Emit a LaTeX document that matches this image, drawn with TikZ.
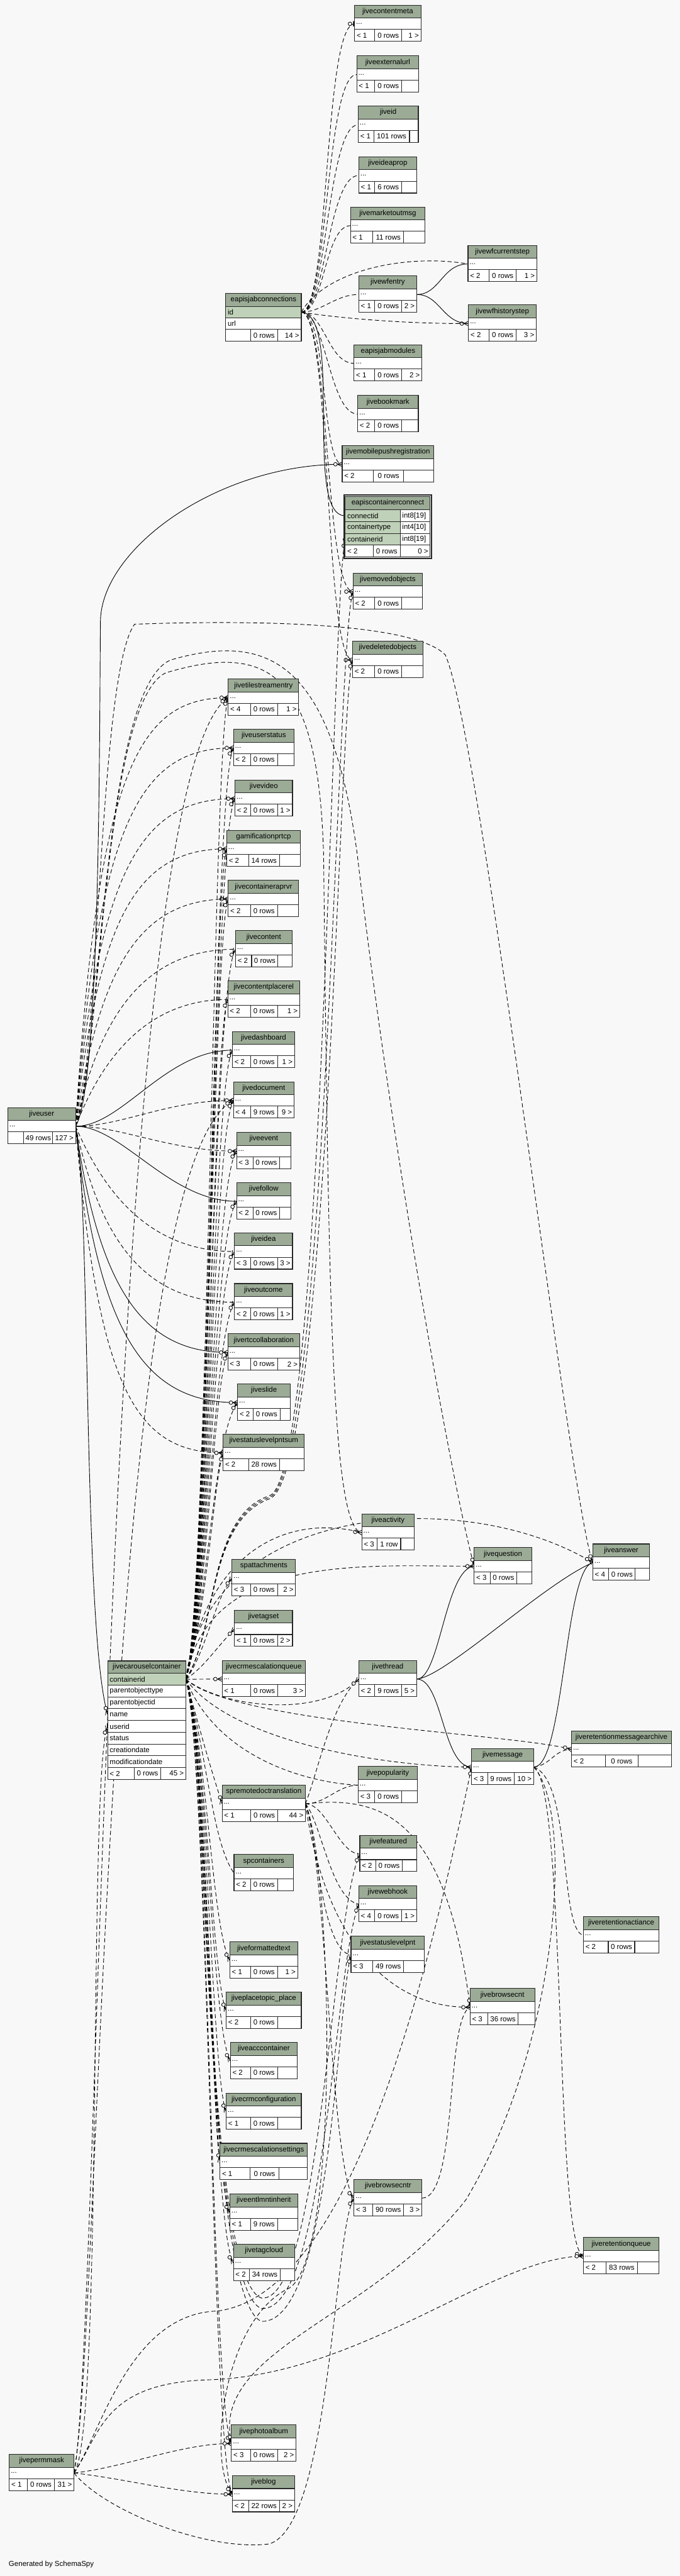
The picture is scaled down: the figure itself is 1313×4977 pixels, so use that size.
\documentclass[tikz,border=0pt]{standalone}
\usepackage{fontspec}
\setmainfont{Liberation Sans}
\usetikzlibrary{decorations.markings}
\definecolor{bgc}{RGB}{248,248,248}
\definecolor{hdrc}{RGB}{155,171,150}
\definecolor{pkc}{RGB}{191,209,184}
\definecolor{bordc}{RGB}{40,40,40}
\newcommand\tfnt{\fontsize{14}{16}\selectfont}
\pgfdeclarelayer{bglayer}\pgfdeclarelayer{edgelayer}
\pgfsetlayers{bglayer,edgelayer,main}
\newcommand\crowmark{\draw[solid,line width=1pt,black] (-9,0) -- (0,4.5) (-9,0) -- (0,-4.5) (-9,0) -- (0,0);
  \draw[solid,line width=1pt,black,fill=bgc] (-13,0) circle[radius=3.5pt];}
\newcommand\teemark{\draw[solid,line width=1.8pt,black] (-2,-5) -- (-2,5);
  \draw[solid,line width=1pt,black,fill=bgc] (-9,0) circle[radius=3.5pt];}
\tikzset{
 hdr/.style={draw=bordc,fill=hdrc,line width=1.3pt,minimum height=25pt,inner sep=0pt,outer sep=0pt,font=\tfnt,text=black},
 rowc/.style={draw=bordc,fill=white,line width=1.3pt,minimum height=22pt,inner sep=0pt,outer sep=0pt},
 pkrow/.style={rowc,fill=pkc},
 cellc/.style={draw=bordc,fill=white,line width=1.3pt,minimum height=23pt,inner sep=0pt,outer sep=0pt},
 tx/.style={font=\tfnt,inner sep=0pt,outer sep=0pt,text=black},
 bord/.style={draw=bordc,line width=1.3pt},
 edgebase/.style={line width=1.1pt,draw=black},
 crowend/.style={postaction={decorate,decoration={markings,mark=at position 1 with {\crowmark}}}},
 teeend/.style={postaction={decorate,decoration={markings,mark=at position 1 with {\teemark}}}},
 de/.style={edgebase,dash pattern=on 8pt off 5pt,crowend},
 se/.style={edgebase,crowend},
 dte/.style={edgebase,dash pattern=on 8pt off 5pt,teeend},
 dne/.style={edgebase,dash pattern=on 8pt off 5pt},
}
% table: id, x, y, xright, title
\newcommand\mytb[5]{%
  \pgfmathsetmacro\tbw{#4-#2}%
  \node[hdr,minimum width=\tbw,anchor=north west] (#1-t) at (#2,#3) {#5};
  \node[rowc,minimum width=\tbw,anchor=north west] (#1) at (#1-t.south west) {};
  \node[tx,anchor=west] (#1-d) at ([xshift=3pt]#1.west) {...};}
% footer: id(row above), split1, split2, texts
\newcommand\myft[6]{%
  \node[cellc,minimum width=\tbw,anchor=north west] (#1-f) at (#1.south west) {};
  \draw[bord] (#2,0 |- #1-f.north) -- (#2,0 |- #1-f.south) (#3,0 |- #1-f.north) -- (#3,0 |- #1-f.south);
  \pgfmathsetmacro\ftm{(#2+#3)/2}%
  \node[tx,anchor=west] (#1-f1) at ([xshift=4pt]#1-f.west) {#4};
  \node[tx] (#1-f2) at (\ftm,0 |- #1-f.center) {#5};
  \node[tx,anchor=east] (#1-f3) at ([xshift=-4pt]#1-f.east) {#6};}
% field row: id, previous, text, style, height
\newcommand\myfr[5]{%
  \node[#4,minimum width=\tbw,minimum height=#5,anchor=north west] (#1) at (#2.south west) {};
  \node[tx,anchor=west] (#1-x) at ([xshift=4pt]#1.west) {#3};}
\newcommand\cn[5][de]{\draw[#1] (#2) .. controls #4 and #5 .. (#3);}
\begin{document}
\begin{tikzpicture}[x=1pt,y=-1pt]
\useasboundingbox (0,0) rectangle (1313,4977);
\begin{pgfonlayer}{bglayer}\fill[bgc] (0,0) rectangle (1313,4977);\end{pgfonlayer}

% ---------- special tables
\node[hdr,minimum width=146,anchor=north west] (ej-t) at (436,567) {eapisjabconnections};
\def\tbw{146}
\myfr{ej-id}{ej-t}{id}{pkrow}{22}
\myfr{ej-url}{ej-id}{url}{rowc}{22.5}
\myft{ej-url}{484}{536}{}{0 rows}{14 >}

\node[hdr,minimum width=164,minimum height=26,anchor=north west] (ecc-t) at (667,959) {eapiscontainerconnect};
\def\tbw{106}
\myfr{ecc-cid}{ecc-t}{connectid}{pkrow}{23}
\myfr{ecc-cty}{ecc-cid}{containertype}{pkrow}{22.5}
\myfr{ecc-ctid}{ecc-cty}{containerid}{pkrow}{22.5}
\node[rowc,minimum width=58,minimum height=23,anchor=north west] (ecc-y1) at (ecc-cid.north east) {};
\node[tx,anchor=west] (ecc-y1x) at ([xshift=4pt]ecc-y1.west) {int8[19]};
\node[rowc,minimum width=58,minimum height=22.5,anchor=north west] (ecc-y2) at (ecc-cty.north east) {};
\node[tx,anchor=west] (ecc-y2x) at ([xshift=4pt]ecc-y2.west) {int4[10]};
\node[rowc,minimum width=58,minimum height=22.5,anchor=north west] (ecc-y3) at (ecc-ctid.north east) {};
\node[tx,anchor=west] (ecc-y3x) at ([xshift=4pt]ecc-y3.west) {int8[19]};
\def\tbw{164}
\myft{ecc-ctid}{721}{773}{< 2}{0 rows}{0 >}
\draw[bordc,line width=2.6pt] (664.5,956.5) rectangle (833.5,1078.5);

\node[hdr,minimum width=151,minimum height=24,anchor=north west] (car-t) at (208,3209) {jivecarouselcontainer};
\def\tbw{151}
\myfr{car-cid}{car-t}{containerid}{pkrow}{22.75}
\myfr{car-pot}{car-cid}{parentobjecttype}{rowc}{22.75}
\myfr{car-poi}{car-pot}{parentobjectid}{rowc}{22.75}
\myfr{car-name}{car-poi}{name}{rowc}{22.75}
\myfr{car-uid}{car-name}{userid}{rowc}{22.75}
\myfr{car-st}{car-uid}{status}{rowc}{22.75}
\myfr{car-cd}{car-st}{creationdate}{rowc}{22.75}
\myfr{car-md}{car-cd}{modificationdate}{rowc}{22.75}
\myft{car-md}{259}{311}{< 2}{0 rows}{45 >}

% ---------- standard tables
\mytb{cmeta}{685}{10}{813}{jivecontentmeta}\myft{cmeta}{724}{776}{< 1}{0 rows}{1 >}
\mytb{exturl}{689}{108}{809}{jiveexternalurl}\myft{exturl}{724}{776}{< 1}{0 rows}{}
\mytb{jid}{692}{205}{808}{jiveid}\myft{jid}{722}{791}{< 1}{101 rows}{}
\mytb{ideaprop}{693}{303}{805}{jiveideaprop}\myft{ideaprop}{724}{776}{< 1}{6 rows}{}
\mytb{mktmsg}{677}{400}{821}{jivemarketoutmsg}\myft{mktmsg}{720}{780}{< 1}{11 rows}{}
\mytb{wfcur}{904}{474}{1037}{jivewfcurrentstep}\myft{wfcur}{945}{997}{< 2}{0 rows}{1 >}
\mytb{wfent}{693}{533}{805}{jivewfentry}\myft{wfent}{724}{776}{< 1}{0 rows}{2 >}
\mytb{wfhist}{905}{589}{1036}{jivewfhistorystep}\myft{wfhist}{945}{997}{< 2}{0 rows}{3 >}
\mytb{jabmod}{684}{666}{815}{eapisjabmodules}\myft{jabmod}{724}{776}{< 1}{0 rows}{2 >}
\mytb{bookmark}{691}{764}{808}{jivebookmark}\myft{bookmark}{724}{776}{< 2}{0 rows}{}
\mytb{mobpush}{661}{861}{838}{jivemobilepushregistration}\myft{mobpush}{721}{780}{< 2}{0 rows}{}
\mytb{moved}{682}{1107}{816}{jivemovedobjects}\myft{moved}{724}{776}{< 2}{0 rows}{}
\mytb{deleted}{681}{1239}{817}{jivedeletedobjects}\myft{deleted}{724}{776}{< 2}{0 rows}{}
\mytb{tile}{441}{1312}{577}{jivetilestreamentry}\myft{tile}{484}{536}{< 4}{0 rows}{1 >}
\mytb{ustatus}{451}{1409}{568}{jiveuserstatus}\myft{ustatus}{484}{536}{< 2}{0 rows}{}
\mytb{video}{454}{1507}{565}{jivevideo}\myft{video}{484}{536}{< 2}{0 rows}{1 >}
\mytb{gami}{438}{1604}{580}{gamificationprtcp}\myft{gami}{480}{540}{< 2}{14 rows}{}
\mytb{caprvr}{441}{1701}{577}{jivecontaineraprvr}\myft{caprvr}{484}{536}{< 2}{0 rows}{}
\mytb{content}{455}{1798}{564}{jivecontent}\myft{content}{486}{537}{< 2}{0 rows}{}
\mytb{cplacerel}{440}{1895}{579}{jivecontentplacerel}\myft{cplacerel}{484}{536}{< 2}{0 rows}{1 >}
\mytb{dashb}{449}{1993}{569}{jivedashboard}\myft{dashb}{484}{536}{< 2}{0 rows}{1 >}
\mytb{doc}{451}{2090}{568}{jivedocument}\myft{doc}{484}{536}{< 4}{9 rows}{9 >}
\mytb{event}{457}{2188}{562}{jiveevent}\myft{event}{489}{540}{< 3}{0 rows}{}
\mytb{follow}{457}{2285}{562}{jivefollow}\myft{follow}{489}{540}{< 2}{0 rows}{}
\mytb{idea}{453}{2382}{565}{jiveidea}\myft{idea}{484}{536}{< 3}{0 rows}{3 >}
\mytb{outcome}{453}{2480}{565}{jiveoutcome}\myft{outcome}{484}{536}{< 2}{0 rows}{1 >}
\mytb{rtc}{440}{2577}{579}{jivertccollaboration}\myft{rtc}{484}{536}{< 3}{0 rows}{2 >}
\mytb{slide}{459}{2674}{561}{jiveslide}\myft{slide}{489}{541}{< 2}{0 rows}{}
\mytb{slps}{431}{2771}{588}{jivestatuslevelpntsum}\myft{slps}{480}{540}{< 2}{28 rows}{}
\mytb{activity}{699}{2925}{800}{jiveactivity}\myft{activity}{729}{774}{< 3}{1 row}{}
\mytb{question}{916}{2990}{1027}{jivequestion}\myft{question}{947}{998}{< 3}{0 rows}{}
\mytb{answer}{1145}{2983}{1255}{jiveanswer}\myft{answer}{1176}{1227}{< 4}{0 rows}{}
\mytb{spatt}{448}{3013}{571}{spattachments}\myft{spatt}{484}{536}{< 3}{0 rows}{2 >}
\mytb{tagset}{453}{3111}{565}{jivetagset}\myft{tagset}{484}{536}{< 1}{0 rows}{2 >}
\mytb{cq}{429}{3208}{590}{jivecrmescalationqueue}\myft{cq}{484}{537}{< 1}{0 rows}{3 >}
\mytb{thread}{693}{3208}{805}{jivethread}\myft{thread}{724}{776}{< 2}{9 rows}{5 >}
\mytb{rma}{1104}{3344}{1297}{jiveretentionmessagearchive}\myft{rma}{1169}{1233}{< 2}{0 rows}{}
\mytb{msg}{911}{3378}{1031}{jivemessage}\myft{msg}{942}{993}{< 3}{9 rows}{10 >}
\mytb{pop}{692}{3413}{806}{jivepopularity}\myft{pop}{724}{776}{< 3}{0 rows}{}
\mytb{sprdt}{429}{3449}{590}{spremotedoctranslation}\myft{sprdt}{484}{537}{< 1}{0 rows}{44 >}
\mytb{feat}{695}{3546}{805}{jivefeatured}\myft{feat}{726}{777}{< 2}{0 rows}{}
\mytb{spcont}{452}{3583}{567}{spcontainers}\myft{spcont}{484}{536}{< 2}{0 rows}{}
\mytb{webhook}{693}{3643}{805}{jivewebhook}\myft{webhook}{724}{776}{< 4}{0 rows}{1 >}
\mytb{ract}{1127}{3703}{1273}{jiveretentionactiance}\myft{ract}{1175}{1226}{< 2}{0 rows}{}
\mytb{slp}{678}{3741}{820}{jivestatuslevelpnt}\myft{slp}{720}{780}{< 3}{49 rows}{}
\mytb{ftext}{444}{3752}{575}{jiveformattedtext}\myft{ftext}{484}{536}{< 1}{0 rows}{1 >}
\mytb{ptp}{437}{3849}{582}{jiveplacetopic\_place}\myft{ptp}{484}{536}{< 2}{0 rows}{}
\mytb{bcnt}{908}{3842}{1033}{jivebrowsecnt}\myft{bcnt}{942}{1001}{< 3}{36 rows}{}
\mytb{acc}{445}{3946}{574}{jiveacccontainer}\myft{acc}{484}{536}{< 2}{0 rows}{}
\mytb{crmconf}{437}{4044}{582}{jivecrmconfiguration}\myft{crmconf}{484}{536}{< 1}{0 rows}{}
\mytb{crmset}{425}{4141}{594}{jivecrmescalationsettings}\myft{crmset}{483}{539}{< 1}{0 rows}{}
\mytb{bcntr}{684}{4211}{815}{jivebrowsecntr}\myft{bcntr}{720}{780}{< 3}{90 rows}{3 >}
\mytb{entl}{444}{4239}{575}{jiveentlmntinherit}\myft{entl}{484}{536}{< 1}{9 rows}{}
\mytb{tagcloud}{451}{4336}{569}{jivetagcloud}\myft{tagcloud}{482}{541}{< 2}{34 rows}{}
\mytb{rq}{1127}{4323}{1273}{jiveretentionqueue}\myft{rq}{1171}{1231}{< 2}{83 rows}{}
\mytb{photo}{447}{4685}{572}{jivephotoalbum}\myft{photo}{484}{536}{< 3}{0 rows}{2 >}
\mytb{blog}{449}{4783}{569}{jiveblog}\myft{blog}{480}{540}{< 2}{22 rows}{2 >}
\mytb{perm}{18}{4742}{143}{jivepermmask}\myft{perm}{53}{105}{< 1}{0 rows}{31 >}
\mytb{user}{15}{2140}{146}{jiveuser}\myft{user}{46}{102}{}{49 rows}{127 >}

\node[tx,anchor=west] (gen) at (17,4955) {Generated by SchemaSpy};

% ---------- connectors
\begin{pgfonlayer}{edgelayer}
% eapisjabconnections
\cn[dte]{ej-id.east}{cmeta.west}{+(55,0)}{+(-60,0)}
\cn[dte]{ej-id.east}{exturl.west}{+(52,0)}{+(-60,0)}
\cn{ej-id.east}{jid.west}{+(50,0)}{+(-60,0)}
\cn[dte]{ej-id.east}{ideaprop.west}{+(48,0)}{+(-60,0)}
\cn[dte]{ej-id.east}{mktmsg.west}{+(45,0)}{+(-50,0)}
\cn{ej-id.east}{wfcur.west}{(630,520)}{(790,490)}
\cn[dte]{ej-id.east}{wfent.west}{+(40,0)}{+(-45,0)}
\cn{ej-id.east}{wfhist.west}{(660,616)}{(800,626)}
\cn[dte]{ej-id.east}{jabmod.west}{+(45,0)}{+(-50,0)}
\cn[dte]{ej-id.east}{bookmark.west}{+(48,0)}{+(-55,0)}
\cn{ej-id.east}{mobpush.west}{+(50,0)}{+(-40,0)}
\cn[se]{ej-id.east}{ecc-cid.west}{(665,610)}{(585,997)}
\cn{ej-id.east}{moved.west}{+(55,0)}{+(-55,0)}
\cn{ej-id.east}{deleted.west}{+(58,0)}{+(-55,0)}
\cn[se]{wfent.east}{wfcur.west}{+(45,0)}{+(-50,0)}
\cn[se]{wfent.east}{wfhist.west}{+(45,0)}{+(-50,0)}
% jiveuser
\cn{user.east}{tile.west}{(190,1478)}{(270,1348)}
\cn{user.east}{ustatus.west}{(190,1575)}{(275,1445)}
\cn{user.east}{video.west}{(190,1673)}{(275,1543)}
\cn{user.east}{gami.west}{(190,1770)}{(265,1640)}
\cn{user.east}{caprvr.west}{(192,1867)}{(270,1737)}
\cn{user.east}{content.west}{(192,1960)}{(280,1834)}
\cn{user.east}{cplacerel.west}{(195,2050)}{(280,1931)}
\cn[se]{user.east}{dashb.west}{+(90,0)}{+(-130,0)}
\cn{user.east}{doc.west}{+(90,0)}{+(-130,0)}
\cn{user.east}{event.west}{+(90,0)}{+(-130,0)}
\cn[se]{user.east}{follow.west}{+(90,0)}{+(-130,0)}
\cn{user.east}{idea.west}{(195,2290)}{(280,2418)}
\cn{user.east}{outcome.west}{(192,2390)}{(275,2516)}
\cn[se]{user.east}{rtc.west}{(190,2480)}{(270,2613)}
\cn[se]{user.east}{slide.west}{(190,2580)}{(280,2710)}
\cn{user.east}{slps.west}{(190,2680)}{(260,2807)}
\draw[se] (user.east) .. controls (194,2100) and (192,1400) .. (194,1200) .. controls (196,1060) and (420,897) .. (mobpush.west);
\cn[se]{user.east}{car-name.west}{(175,2300)}{(160,3150)}
\draw[de] (user.east) .. controls (192,2050) and (190,1300) .. (260,1206) .. controls (420,1200) and (790,1195) .. (860,1265) .. controls (930,1420) and (1100,2900) .. (answer.west);
\draw[de] (user.east) .. controls (195,2050) and (195,1330) .. (330,1275) .. controls (520,1220) and (640,1280) .. (690,1650) .. controls (760,2250) and (880,2900) .. (question.west);
\draw[de] (user.east) .. controls (196,2050) and (196,1360) .. (320,1300) .. controls (520,1240) and (615,1300) .. (625,1650) .. controls (635,2500) and (640,2955) .. (activity.west);
% jivecarouselcontainer
\foreach \t/\ty in {tile/1348,ustatus/1445,video/1543,gami/1640,caprvr/1737,content/1834,cplacerel/1931,dashb/2029,doc/2126,event/2224,follow/2321,idea/2418,outcome/2516,rtc/2613,slide/2710,slps/2807}
  {\draw[de] (car-cid.east) .. controls (402,3100) and (412,\ty+60) .. (\t.west);}
\cn{car-cid.east}{spatt.west}{(395,3200)}{(415,3089)}
\cn{car-cid.east}{tagset.west}{(395,3220)}{(415,3187)}
\cn{car-cid.east}{cq.west}{+(30,0)}{+(-30,0)}
\foreach \t/\ty in {sprdt/3485,spcont/3619,ftext/3788,ptp/3885,acc/3982,crmconf/4080,crmset/4177,entl/4275,tagcloud/4372,photo/4721,blog/4819}
  {\draw[de] (car-cid.east) .. controls (402,3400) and (410,\ty-60) .. (\t.west);}
\draw[de] (car-cid.east) .. controls (420,3150) and (400,2930) .. (520,2890) .. controls (625,2860) and (640,1150) .. (ecc-ctid.west);
\draw[de] (car-cid.east) .. controls (420,3150) and (400,2935) .. (520,2893) .. controls (630,2860) and (650,1230) .. (moved.west);
\draw[de] (car-cid.east) .. controls (420,3150) and (400,2940) .. (520,2896) .. controls (635,2860) and (655,1350) .. (deleted.west);
\cn{car-cid.east}{activity.west}{(400,2990)}{(560,2925)}
\cn{car-cid.east}{question.west}{(400,3000)}{(700,3026)}
\cn{car-cid.east}{answer.west}{(400,2900)}{(900,2870)}
\cn{car-cid.east}{thread.west}{(430,3300)}{(620,3320)}
\cn{car-cid.east}{rma.west}{(450,3330)}{(1000,3350)}
\cn{car-cid.east}{msg.west}{(450,3370)}{(760,3414)}
\cn{car-cid.east}{pop.west}{(420,3400)}{(600,3445)}
\draw[de] (car-cid.east) .. controls (400,3300) and (392,4400) .. (505,4440) .. controls (620,4450) and (640,3700) .. (feat.west);
\draw[de] (car-cid.east) .. controls (400,3300) and (392,4420) .. (505,4460) .. controls (630,4470) and (645,3800) .. (webhook.west);
\draw[de] (car-cid.east) .. controls (400,3300) and (392,4440) .. (505,4485) .. controls (640,4490) and (650,3880) .. (slp.west);
% spremotedoctranslation
\cn{sprdt.east}{pop.west}{+(40,0)}{+(-40,0)}
\cn{sprdt.east}{thread.west}{(615,3420)}{(640,3290)}
\cn{sprdt.east}{feat.west}{+(40,0)}{+(-40,0)}
\cn{sprdt.east}{webhook.west}{(620,3520)}{(640,3670)}
\cn{sprdt.east}{slp.west}{(610,3530)}{(620,3770)}
\cn{sprdt.east}{bcnt.west}{(730,3470)}{(860,3500)}
\cn{sprdt.east}{bcnt.west}{(620,3700)}{(720,3880)}
\cn{sprdt.east}{bcntr.west}{(630,3600)}{(640,4200)}
\draw[de] (sprdt.east) .. controls (640,3600) and (660,4350) .. (560,4420) .. controls (430,4480) and (400,4760) .. (blog.west);
% jivethread
\cn[se]{thread.east}{question.west}{(850,3244)}{(860,3030)}
\cn[se]{thread.east}{answer.west}{(860,3240)}{(1050,3060)}
\cn[se]{thread.east}{msg.west}{(855,3244)}{(855,3414)}
% jivemessage
\cn[se]{msg.east}{answer.west}{(1090,3414)}{(1090,3030)}
\cn{msg.east}{rma.west}{(1065,3410)}{(1070,3380)}
\cn{msg.east}{ract.west}{(1105,3440)}{(1080,3730)}
\cn{msg.east}{rq.west}{(1095,3450)}{(1070,4340)}
\draw[de] (msg.east) .. controls (1110,3500) and (1080,3950) .. (900,4250) .. controls (720,4480) and (405,4540) .. (photo.west);
% jivebrowsecntr
\cn{bcntr.east}{bcnt.west}{(885,4246)}{(860,3900)}
% jivepermmask
\cn{perm.east}{photo.west}{(250,4765)}{(350,4721)}
\cn{perm.east}{blog.west}{(250,4790)}{(350,4819)}
\cn{perm.east}{car-uid.west}{(200,4700)}{(170,3420)}
\cn{perm.east}{tile.west}{(195,4500)}{(200,1500)}
\cn{perm.east}{doc.west}{(195,4500)}{(200,2250)}
\draw[de] (perm.east) .. controls (195,4700) and (200,4605) .. (400,4598) .. controls (700,4590) and (950,4360) .. (rq.west);
\draw[de] (perm.east) .. controls (200,4850) and (400,4930) .. (520,4915) .. controls (640,4880) and (645,4300) .. (bcntr.west);
\draw[de] (perm.east) .. controls (195,4700) and (250,4470) .. (420,4465) .. controls (700,4430) and (850,3700) .. (msg.west);
\end{pgfonlayer}
\end{tikzpicture}
\end{document}
